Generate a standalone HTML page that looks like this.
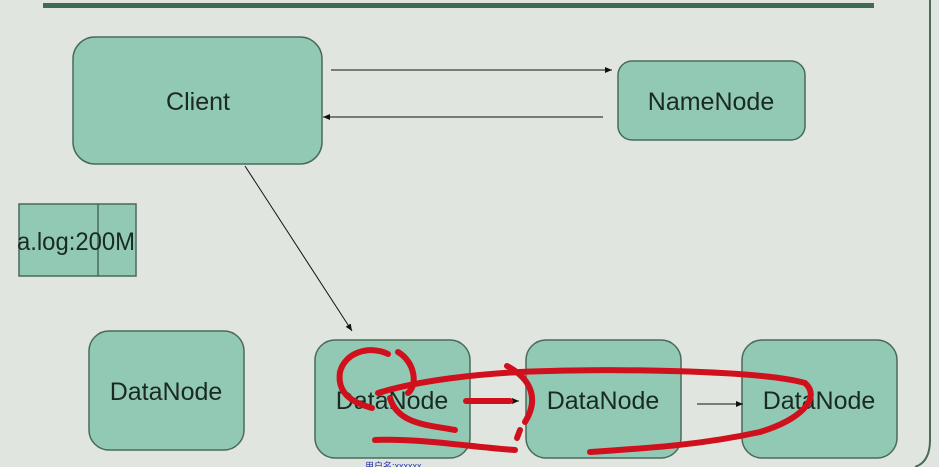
<!DOCTYPE html>
<html><head><meta charset="utf-8"><style>
html,body{margin:0;padding:0;background:#e1e5df;}
svg{display:block;}
text{font-family:"Liberation Sans",Arial,sans-serif;fill:#1a2a22;}
</style></head><body>
<svg width="939" height="467" viewBox="0 0 939 467" xmlns="http://www.w3.org/2000/svg">
<defs>
<marker id="ah" markerWidth="8" markerHeight="8" refX="7" refY="4" orient="auto" markerUnits="userSpaceOnUse">
<path d="M0,1 L7,4 L0,7 z" fill="#111"/></marker>
</defs>
<rect width="939" height="467" fill="#e1e5df"/>
<rect x="43" y="3" width="831" height="5" fill="#3f6a57"/>
<path d="M930,0 L930,440 Q930,462 915,467" fill="none" stroke="#4a6a5a" stroke-width="2"/>
<g fill="#92c9b4" stroke="#4a6a5a" stroke-width="1.5">
<rect x="73" y="37" width="249" height="127" rx="22"/>
<rect x="618" y="61" width="187" height="79" rx="14"/>
<rect x="19" y="204" width="117" height="72" rx="0"/>
<rect x="89" y="331" width="155" height="119" rx="20"/>
<rect x="315" y="340" width="155" height="118" rx="20"/>
<rect x="526" y="340" width="155" height="118" rx="20"/>
<rect x="742" y="340" width="155" height="118" rx="20"/>
</g>
<line x1="98" y1="204" x2="98" y2="276" stroke="#4a6a5a" stroke-width="1.5"/>
<text x="198" y="110" font-size="25" text-anchor="middle">Client</text>
<text x="711" y="110" font-size="25" text-anchor="middle">NameNode</text>
<text x="17" y="250" font-size="25" textLength="118" lengthAdjust="spacingAndGlyphs">a.log:200M</text>
<text x="166" y="400" font-size="25" text-anchor="middle">DataNode</text>
<text x="392" y="409" font-size="25" text-anchor="middle">DataNode</text>
<text x="603" y="409" font-size="25" text-anchor="middle">DataNode</text>
<text x="819" y="409" font-size="25" text-anchor="middle">DataNode</text>
<g stroke="#111" stroke-width="1" fill="none">
<line x1="331" y1="70" x2="612" y2="70" marker-end="url(#ah)"/>
<line x1="603" y1="117" x2="323" y2="117" marker-end="url(#ah)"/>
<line x1="245" y1="166" x2="352" y2="331" marker-end="url(#ah)"/>
<line x1="470" y1="401" x2="519" y2="401" marker-end="url(#ah)"/>
<line x1="697" y1="404" x2="743" y2="404" marker-end="url(#ah)"/>
</g>
<g stroke="#d0101c" stroke-width="6" fill="none" stroke-linecap="round">
<path d="M388,354 C370,345 345,352 340,372 C337,392 350,402 372,408"/>
<path d="M398,352 C415,362 418,385 408,393"/>
<path d="M378,393 C420,380 480,374 520,372 C600,368 760,370 805,383 C822,398 800,420 760,432 C700,445 650,448 590,452"/>
<path d="M390,398 C398,425 430,425 455,430"/>
<path d="M375,440 C420,438 470,447 515,450"/>
<path d="M466,401 L510,401"/>
<path d="M507,366 C530,378 540,398 525,422"/>
<path d="M520,430 L517,438"/>
</g>
<text x="365" y="469" font-size="9" style="fill:#2233aa" font-family="Liberation Sans, Noto Sans CJK SC, sans-serif">用户名:xxxxxx</text>
</svg>
</body></html>
